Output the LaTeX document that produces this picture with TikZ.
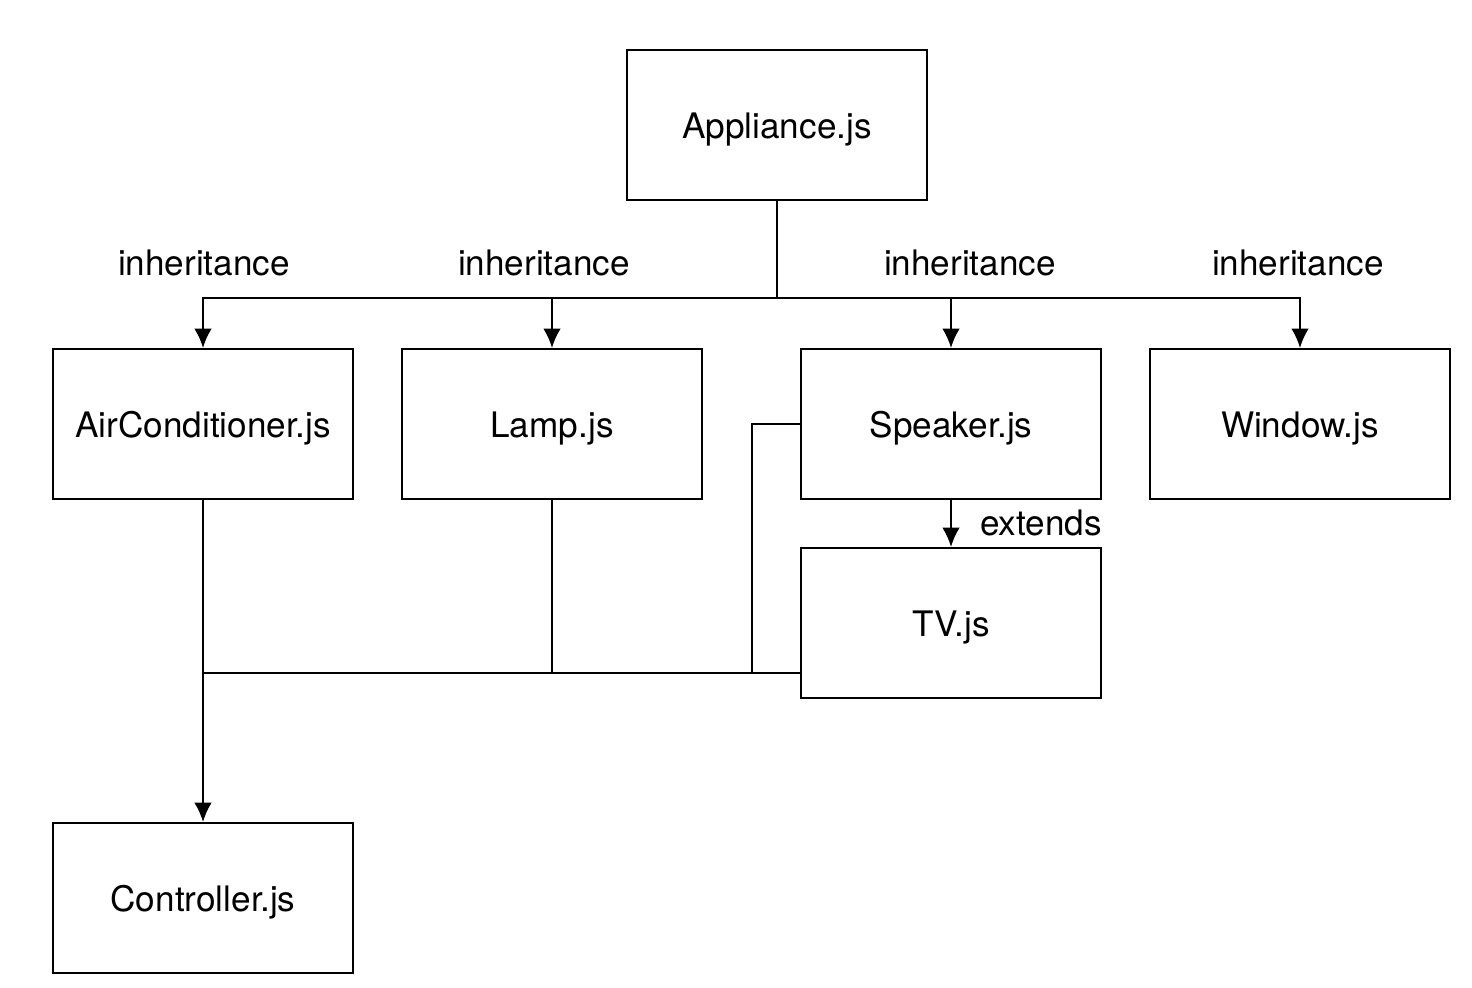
\documentclass[tikz,border=0pt]{standalone}
\usepackage{fontspec}
\setmainfont{TeX Gyre Heros}
\usetikzlibrary{arrows.meta}

\tikzset{
  filebox/.style={draw, line width=1.2pt, minimum width=6cm, minimum height=3cm, inner sep=0pt,
    text height=1.5em, text depth=0pt},
  link/.style={line width=1.2pt},
  arrowlink/.style={link, -{Latex[length=11pt,width=10pt]}},
  every node/.style={font=\fontsize{20pt}{24pt}\selectfont}
}

\begin{document}
\begin{tikzpicture}[x=0.02cm,y=-0.02cm]
\useasboundingbox (0,0) rectangle (1472,988);

% files
\node[filebox] (appliance) at (777,125) {Appliance.js};
\node[filebox] (aircon) at (203,424) {AirConditioner.js};
\node[filebox] (lamp) at (552,424) {Lamp.js};
\node[filebox] (speaker) at (951,424) {Speaker.js};
\node[filebox] (window) at (1300,424) {Window.js};
\node[filebox] (tv) at (951,623) {TV.js};
\node[filebox] (controller) at (203,898) {Controller.js};

% inheritance
\coordinate (bus) at (777,298);
\draw[link] (appliance.south) -- (bus);
\draw[arrowlink] (bus) -| (aircon.north);
\draw[arrowlink] (bus) -| (lamp.north);
\draw[arrowlink] (bus) -| (speaker.north);
\draw[arrowlink] (bus) -| (window.north);

\node (inhaircon) at (204,263) {inheritance};
\node (inhlamp) at (544,263) {inheritance};
\node (inhspeaker) at (970,263) {inheritance};
\node (inhwindow) at (1298,263) {inheritance};

% extends
\draw[arrowlink] (speaker.south) -- (tv.north);
\node[anchor=west] (extlabel) at (974,523) {extends};

% controller
\coordinate (collect) at (203,673);
\coordinate (spkdrop) at (752,673);
\coordinate (tvside) at (801,673);
\draw[link] (tvside) -- (collect);
\draw[link] (speaker.west) -| (spkdrop);
\draw[link] (lamp.south) -- (lamp.south |- collect);
\draw[arrowlink] (aircon.south) -- (controller.north);
\end{tikzpicture}
\end{document}
